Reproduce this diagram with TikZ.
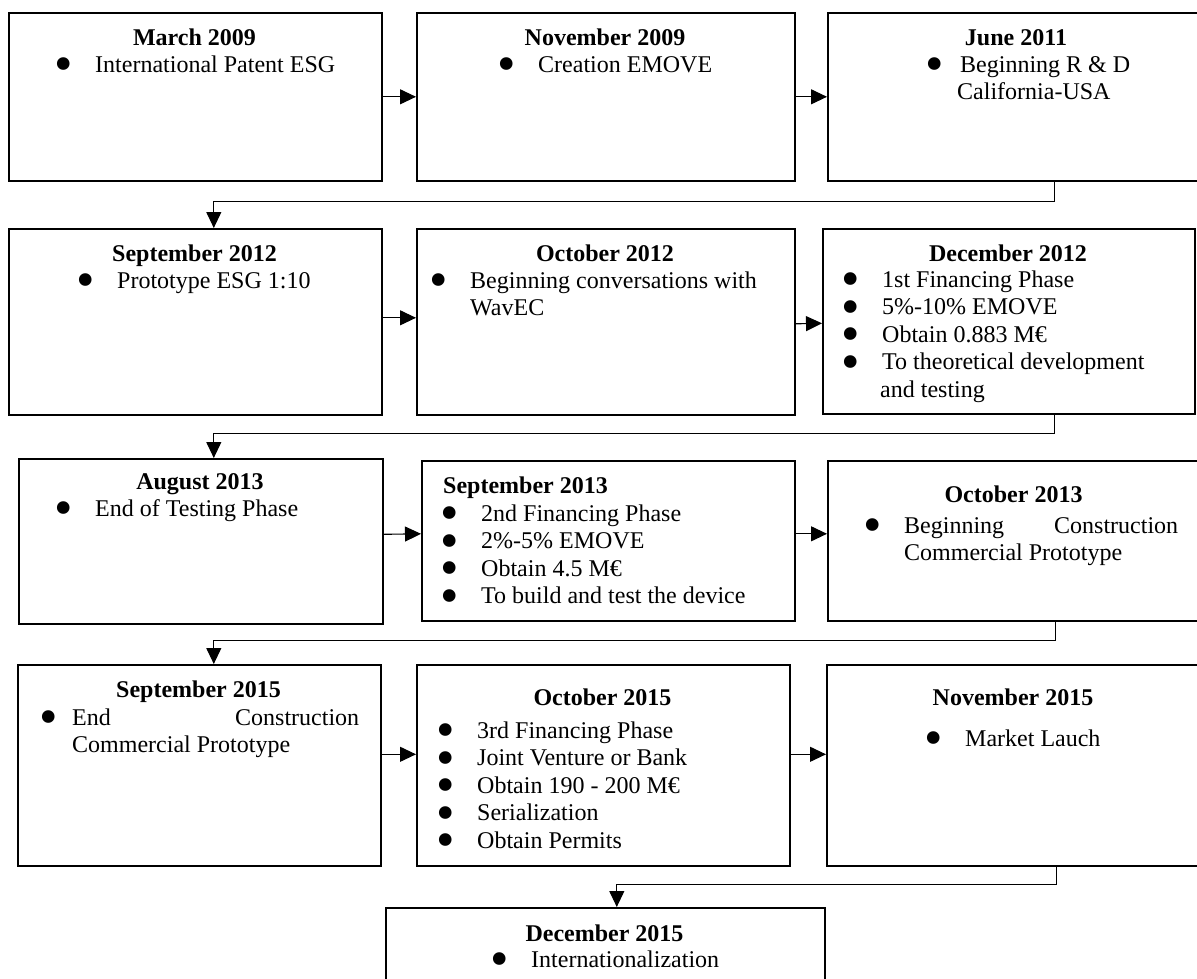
\documentclass[tikz,border=0pt]{standalone}
\usepackage{fontspec}
\setmainfont{Liberation Serif}
\usetikzlibrary{arrows.meta}

\newcommand{\fs}{\fontsize{24}{27.5}\selectfont}
\newcommand{\blt}[1][31pt]{\leavevmode\llap{\makebox[0pt]{\smash{\raisebox{-0.4em}{\scalebox{2.2}{\textbullet}}}}\hspace{#1}}}
\newcommand{\lines}[1]{\parbox[t]{330pt}{\raggedright #1}}

\tikzset{
  event/.style={draw, line width=1.6pt, inner sep=0pt, anchor=north west},
  head/.style={anchor=base, inner sep=0pt, font=\fs\bfseries},
  body/.style={anchor=base west, inner sep=0pt, font=\fs},
  flow/.style={line width=1.1pt, -{Triangle[length=16pt,width=15pt]}},
}

\begin{document}
\begin{tikzpicture}[x=1pt,y=-1pt]
\path[use as bounding box, clip] (0,0) rectangle (1197,978);

% boxes
\node[event, minimum width=373, minimum height=168] (mar09) at (8,12) {};
\node[event, minimum width=378, minimum height=168] (nov09) at (416,12) {};
\node[event, minimum width=373, minimum height=168] (jun11) at (827,12) {};
\node[event, minimum width=373, minimum height=186] (sep12) at (8,228) {};
\node[event, minimum width=378, minimum height=186] (oct12) at (416,228) {};
\node[event, minimum width=372, minimum height=185] (dec12) at (822,228) {};
\node[event, minimum width=364, minimum height=165] (aug13) at (18,458) {};
\node[event, minimum width=373, minimum height=160] (sep13) at (421,460) {};
\node[event, minimum width=373, minimum height=160] (oct13) at (827,460) {};
\node[event, minimum width=363, minimum height=201] (sep15) at (17,664) {};
\node[event, minimum width=373, minimum height=201] (oct15) at (416,664) {};
\node[event, minimum width=374, minimum height=201] (nov15) at (826,664) {};
\node[event, minimum width=439, minimum height=168] (dec15) at (385,907) {};

% texts
\node[head] (mar09h) at (194.5,45) {March 2009};
\node[body] (mar09t) at (95,72) {\blt International Patent ESG};
\node[head] (nov09h) at (605,45) {November 2009};
\node[body] (nov09t) at (538,72) {\blt Creation EMOVE};
\node[head] (jun11h) at (1016,45) {June 2011};
\node[body] (jun11t) at (960,72) {\lines{\blt[25pt]Beginning R \& D\\\hspace*{-3pt}California-USA}};
\node[head] (sep12h) at (194.5,261) {September 2012};
\node[body] (sep12t) at (117,288) {\blt Prototype ESG 1:10};
\node[head] (oct12h) at (605,261) {October 2012};
\node[body] (oct12t) at (470,288) {\lines{\blt Beginning conversations with\\WavEC}};
\node[head] (dec12h) at (1008,261) {December 2012};
\node[body] (dec12t) at (882,287) {\lines{\blt 1st Financing Phase\\\blt 5\%-10\% EMOVE\\\blt Obtain 0.883 M€\\\blt To theoretical development\\\hspace*{-2pt}and testing}};
\node[head] (aug13h) at (200,489) {August 2013};
\node[body] (aug13t) at (95,516) {\blt End of Testing Phase};
\node[head, anchor=base west] (sep13h) at (443,493) {September 2013};
\node[body] (sep13t) at (481,521) {\lines{\blt 2nd Financing Phase\\\blt 2\%-5\% EMOVE\\\blt Obtain 4.5 M€\\\blt To build and test the device}};
\node[head] (oct13h) at (1013.5,502) {October 2013};
\node[body] (oct13t) at (904,533) {\lines{\blt\makebox[274pt]{Beginning\hfill Construction}\\Commercial Prototype}};
\node[head] (sep15h) at (198.5,697) {September 2015};
\node[body] (sep15t) at (72,725) {\lines{\blt[23pt]\makebox[287pt]{End\hfill Construction}\\Commercial Prototype}};
\node[head] (oct15h) at (602.5,705) {October 2015};
\node[body] (oct15t) at (477,738) {\lines{\blt 3rd Financing Phase\\\blt Joint Venture or Bank\\\blt Obtain 190 - 200 M€\\\blt Serialization\\\blt Obtain Permits}};
\node[head] (nov15h) at (1013,705) {November 2015};
\node[body] (nov15t) at (965,746) {\blt Market Lauch};
\node[head] (dec15h) at (604.5,941) {December 2015};
\node[body] (dec15t) at (531,967) {\blt Internationalization};

% arrows
\draw[flow] (mar09.east) -- (nov09.west);
\draw[flow] (nov09.east) -- (jun11.west);
\draw[flow] ([xshift=40.5pt]jun11.south) -- ++(0,-20pt) -| ([xshift=18.5pt]sep12.north);
\draw[flow] ([yshift=4pt]sep12.east) -- ([yshift=4pt]oct12.west);
\draw[flow] ([yshift=-2pt]oct12.east) -- ([yshift=-2pt]dec12.west);
\draw[flow] ([xshift=46pt]dec12.south) -- ++(0,-19pt) -| ([xshift=13pt]aug13.north);
\draw[flow] ([yshift=7pt]aug13.east) -- ([yshift=7pt]sep13.west);
\draw[flow] ([yshift=7pt]sep13.east) -- ([yshift=7pt]oct13.west);
\draw[flow] ([xshift=41.5pt]oct13.south) -- ++(0,-19pt) -| ([xshift=14.5pt]sep15.north);
\draw[flow] ([yshift=11pt]sep15.east) -- ([yshift=11pt]oct15.west);
\draw[flow] ([yshift=11pt]oct15.east) -- ([yshift=11pt]nov15.west);
\draw[flow] ([xshift=43pt]nov15.south) -- ++(0,-18pt) -| ([xshift=11.5pt]dec15.north);
\end{tikzpicture}
\end{document}
